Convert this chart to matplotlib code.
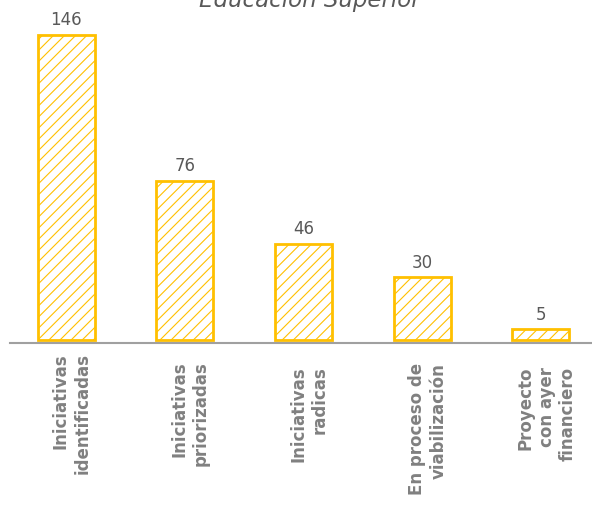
import matplotlib.pyplot as plt
from matplotlib.transforms import blended_transform_factory, offset_copy

# bar chart, Educación Superior pipeline
categories = [
    "Iniciativas\nidentificadas",
    "Iniciativas\npriorizadas",
    "Iniciativas\nradicas",
    "En proceso de\nviabilización",
    "Proyecto\ncon ayer\nfinanciero",
]
values = [146, 76, 46, 30, 5]
title = "Educación Superior"

GOLD = "#FFC000"
GREY_TXT = "#595959"
GREY_LBL = "#808080"

plt.rcParams["hatch.color"] = GOLD
plt.rcParams["hatch.linewidth"] = 0.8

fig = plt.figure(figsize=(5.92, 5.05), dpi=100)
ax = fig.add_axes([10 / 592, 1 - 343 / 505, 582 / 592, 343 / 505])

x = list(range(len(values)))
ax.bar(x, values, width=0.48, facecolor="white", edgecolor=GOLD,
       linewidth=2.0, hatch="///")

for xi, v in zip(x, values):
    ax.annotate(str(v), (xi, v), xytext=(0, 4), textcoords="offset points",
                ha="center", va="bottom", fontsize=12, color=GREY_TXT)

ax.set_xlim(-0.472, 4.43)
ax.set_ylim(-1.5, 162.5)
for side in ("top", "left", "right"):
    ax.spines[side].set_visible(False)
ax.spines["bottom"].set_color("#A0A0A0")
ax.spines["bottom"].set_linewidth(1.5)
ax.set_xticks([])
ax.set_yticks([])

trans = blended_transform_factory(ax.transData, fig.transFigure)
for xi, lab in zip(x, categories):
    if lab.startswith("En proceso"):
        y, va = 1 - 363 / 505, "top"
    else:
        y, va = 1 - 414 / 505, "center"
    ax.text(xi, y, lab, transform=offset_copy(trans, fig=fig, x=4, units="points"),
            rotation=90, ha="center", va=va, multialignment="right",
            fontsize=12, fontweight="bold", color=GREY_LBL, linespacing=1.25)

# title sits partly above the canvas, as in the source image
fig.text(310 / 592, 1 - 7 / 505, title, ha="center", va="baseline",
         fontsize=16.5, style="italic", color=GREY_TXT)

fig.savefig("out.png", dpi=100)
